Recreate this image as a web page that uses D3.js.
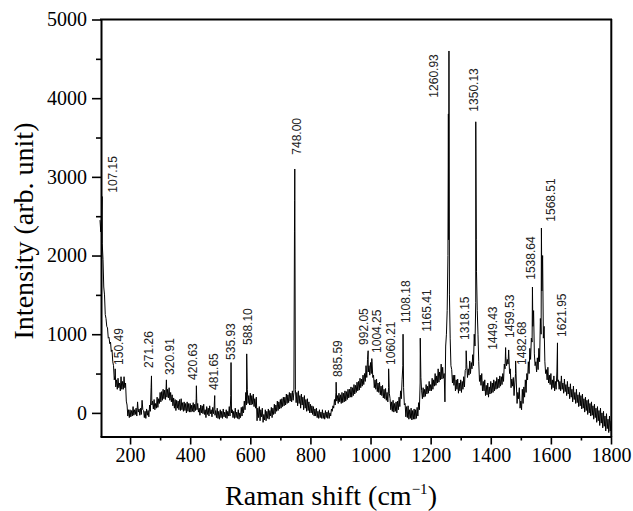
<!DOCTYPE html>
<html>
<head>
<meta charset="utf-8">
<script src="https://cdn.jsdelivr.net/npm/d3@7/dist/d3.min.js"></script>
<style>
  body { margin: 0; background: #fff; }
  svg { display: block; }
</style>
</head>
<body>
<svg id="chart" width="633" height="511"></svg>
<script>
// Raman spectrum. The trace is a dense noisy band:
// bandTop = upper edge every 5 cm-1 (100 ... 1800),
// bandBottom = lower edge at the half steps (102.5 ... 1797.5)
var shiftStep = 5;
var bandTop = [
  2450, 2500, 1950, 1500, 1200, 1080, 960, 900, 800, 600, 480, 420, 440, 380, 460, 400, 460, 380, 100, 40,
  40, 30, 80, 40, 60, 140, 50, 60, 160, 30, 20, 50, 30, 100, 320, 150, 170, 120, 200, 180,
  260, 270, 300, 290, 330, 300, 320, 260, 230, 190, 170, 160, 150, 170, 180, 130, 140, 120, 140, 120,
  120, 100, 130, 110, 180, 120, 60, 100, 90, 110, 40, 80, 60, 90, 40, 70, 90, 30, 60, 20,
  40, 20, 50, 10, 40, 20, 80, 220, 40, 20, 60, 10, 40, 0, 70, 80, 150, 260, 300, 220,
  250, 220, 240, 180, 200, 60, 80, 40, 60, -20, 40, 20, 50, 30, 70, 60, 110, 100, 150, 140,
  170, 180, 200, 200, 240, 230, 260, 250, 280, 260, 300, 260, 280, 220, 240, 200, 220, 170, 180, 140,
  110, 90, 80, 50, 60, 20, 40, 10, 40, 0, 30, 10, 30, 0, 50, 90, 170, 260, 220, 250,
  230, 260, 250, 280, 270, 300, 300, 330, 320, 360, 350, 390, 400, 440, 430, 480, 500, 600, 680, 600,
  640, 650, 480, 420, 430, 380, 390, 340, 350, 300, 310, 260, 320, 180, 140, 160, 120, 140, 150, 200,
  280, 420, 320, 120, 80, 90, 40, 60, 30, 50, 40, 70, 130, 380, 280, 320, 300, 360, 340, 400,
  360, 440, 420, 500, 470, 560, 520, 620, 580, 500, 850, 1300, 2200, 950, 550, 480, 480, 420, 430, 380,
  420, 400, 460, 540, 620, 560, 660, 640, 740, 1000, 1400, 1300, 650, 480, 500, 400, 420, 350, 380, 330,
  400, 380, 420, 400, 450, 430, 470, 460, 500, 620, 720, 680, 760, 560, 430, 450, 380, 380, 260, 320,
  150, 300, 330, 420, 500, 650, 820, 950, 1100, 750, 650, 700, 820, 1200, 1550, 950, 650, 550, 580, 480,
  500, 420, 470, 400, 520, 420, 400, 470, 380, 430, 360, 400, 330, 370, 300, 340, 260, 300, 230, 260,
  220, 240, 180, 200, 160, 170, 120, 140, 90, 110, 60, 80, 30, 60, 0, 20, -40, -10, -80, -40,
  -100
];
var bandBottom = [
  2300, 2150, 1600, 1250, 1100, 950, 880, 780, 650, 420, 330, 300, 320, 280, 300, 300, 320, 150, -40, -60,
  -50, -40, -30, -20, -40, 10, -30, -20, 40, -60, -70, -30, -50, 20, 100, 50, 40, 60, 70, 120,
  140, 160, 180, 170, 200, 190, 160, 140, 90, 60, 30, 60, 40, 30, 40, 20, 30, 0, 20, 10,
  10, 20, 10, 30, 40, 10, -30, 0, -10, -20, -60, -20, -40, -10, -50, -10, -30, -60, -70, -80,
  -60, -70, -50, -60, -70, -40, -40, 0, -60, -70, -60, -70, -80, -60, -40, 0, 40, 100, 120, 100,
  100, 110, 80, 60, -100, -60, -100, -50, -120, -90, -100, -70, -80, -40, -60, -20, -10, 20, 30, 50,
  60, 80, 90, 100, 120, 130, 150, 140, 160, 2700, 130, 90, 120, 60, 100, 40, 60, 20, 30, 0,
  0, -20, -40, -40, -60, -70, -60, -70, -70, -80, -60, -70, -70, -40, 20, 60, 100, 150, 120, 140,
  120, 130, 140, 150, 170, 190, 200, 200, 220, 240, 260, 280, 290, 320, 340, 360, 400, 450, 520, 480,
  500, 450, 320, 300, 270, 260, 230, 220, 190, 180, 160, 140, 250, 40, 20, 10, 20, 0, 40, 80,
  180, 600, 100, -50, -60, -80, -70, -90, -80, -80, -70, -40, 40, 450, 180, 200, 210, 240, 250, 280,
  280, 300, 340, 350, 380, 390, 420, 430, 440, 140, 1000, 2000, 1500, 600, 380, 350, 280, 300, 250, 280,
  260, 300, 330, 560, 450, 480, 500, 560, 600, 850, 1800, 1000, 400, 350, 280, 280, 220, 230, 200, 240,
  250, 260, 280, 300, 310, 320, 340, 360, 400, 560, 600, 620, 500, 320, 340, 220, 500, 120, 180, 60,
  40, 120, 200, 260, 420, 500, 680, 900, 1300, 600, 520, 550, 650, 1000, 2000, 1100, 500, 420, 380, 360,
  300, 320, 280, 300, 400, 300, 280, 300, 250, 270, 220, 240, 180, 200, 140, 170, 120, 130, 80, 90,
  50, 60, 10, 30, -20, 0, -40, -30, -80, -60, -120, -100, -160, -130, -190, -170, -230, -200, -250, -230
];

// sharp bands and their tops
var spikeShift = [107.15, 150.49, 271.26, 320.91, 420.63, 481.65, 535.93, 588.10, 747, 748.00,
  885.59, 992.05, 1004.25, 1060.21, 1108.18, 1165.41, 1259, 1260.93, 1318.15, 1350.13, 1352,
  1449.43, 1459.53, 1482.68, 1538.64, 1568.51, 1621.95];
var spikeHeight = [2750, 560, 470, 420, 345, 220, 640, 750, 2300, 3100,
  390, 790, 690, 560, 1000, 950, 3800, 4600, 790, 3700, 2200,
  830, 800, 660, 1600, 2350, 890];

// peak labels: text, position of the label foot (shift, intensity)
var labelText = ["107.15", "150.49", "271.26", "320.91", "420.63", "481.65", "535.93", "588.10",
  "748.00", "885.59", "992.05", "1004.25", "1060.21", "1108.18", "1165.41", "1260.93", "1318.15",
  "1350.13", "1449.43", "1459.53", "1482.68", "1538.64", "1568.51", "1621.95"];
var labelShift = [144, 161, 261, 333, 408, 480, 536, 593, 754, 891, 976, 1020, 1067, 1118, 1187,
  1209, 1314, 1344, 1408, 1464, 1503, 1534, 1599, 1636];
var labelBase = [2798, 610, 572, 483, 419, 292, 673, 864, 3282, 457, 864, 762, 610, 1144, 1030,
  4007, 928, 3829, 801, 953, 610, 1692, 2430, 966];

var xTicks = [200, 400, 600, 800, 1000, 1200, 1400, 1600, 1800];
var xMinor = [300, 500, 700, 900, 1100, 1300, 1500, 1700];
var yTicks = [0, 1000, 2000, 3000, 4000, 5000];
var yMinor = [500, 1500, 2500, 3500, 4500];

var svg = d3.select("#chart");
var serif = "'Liberation Serif', 'DejaVu Serif', serif";

var x = d3.scaleLinear().domain([100, 1800]).range([100, 611]);
var y = d3.scaleLinear().domain([-300, 5000]).range([436.5, 19.5]);

var points = bandTop.map(function(v, i) { return [100 + i * shiftStep, v]; });
bandBottom.forEach(function(v, i) { points.push([102.5 + i * shiftStep, v]); });
spikeShift.forEach(function(s, i) { points.push([s, spikeHeight[i]]); });
points.sort(function(a, b) { return a[0] - b[0]; });

var line = d3.line()
    .x(function(d) { return x(d[0]); })
    .y(function(d) { return y(d[1]); });

svg.append("path")
    .datum(points)
    .attr("fill", "none")
    .attr("stroke", "#000")
    .attr("stroke-width", 1)
    .attr("d", line);

// frame top and right
svg.append("line").attr("x1", 100).attr("x2", 612).attr("y1", 19.5).attr("y2", 19.5)
    .attr("stroke", "#000").attr("stroke-width", 2);
svg.append("line").attr("x1", 611.3).attr("x2", 611.3).attr("y1", 19).attr("y2", 437)
    .attr("stroke", "#000").attr("stroke-width", 2);

// axes
svg.append("g").attr("transform", "translate(0,436.5)")
    .call(d3.axisBottom(x).tickValues(xTicks).tickSize(8).tickPadding(3).tickSizeOuter(0)
        .tickFormat(d3.format("d")));
svg.append("g").attr("transform", "translate(0,436.5)")
    .call(d3.axisBottom(x).tickValues(xMinor).tickSize(4).tickFormat("").tickSizeOuter(0))
    .select(".domain").remove();
svg.append("g").attr("transform", "translate(101,0)")
    .call(d3.axisLeft(y).tickValues(yTicks).tickSize(9).tickPadding(5).tickSizeOuter(0)
        .tickFormat(d3.format("d")));
svg.append("g").attr("transform", "translate(101,0)")
    .call(d3.axisLeft(y).tickValues(yMinor).tickSize(5).tickFormat("").tickSizeOuter(0))
    .select(".domain").remove();

svg.selectAll(".domain").attr("stroke-width", 2);
svg.selectAll(".tick line").attr("stroke-width", 1.6);
svg.selectAll(".tick text").style("font-family", serif).style("font-size", "20px").attr("fill", "#000");

// peak labels
svg.append("g").selectAll("text")
    .data(labelText)
    .enter().append("text")
    .attr("transform", function(d, i) {
        return "translate(" + x(labelShift[i]) + "," + y(labelBase[i]) + ") rotate(-90)";
    })
    .attr("dy", "0.35em")
    .style("font-family", "'Liberation Sans', Arial, sans-serif")
    .style("font-size", "12px")
    .attr("fill", "#222")
    .text(function(d) { return d; });

// axis titles
var xt = svg.append("text")
    .attr("x", 331).attr("y", 505)
    .attr("text-anchor", "middle")
    .style("font-family", serif)
    .style("font-size", "28px")
    .attr("fill", "#000");
xt.append("tspan").text("Raman shift (cm");
xt.append("tspan").attr("dy", -11).style("font-size", "15px").text("\u22121");
xt.append("tspan").attr("dy", 11).text(")");

svg.append("text")
    .attr("transform", "translate(33,231) rotate(-90)")
    .attr("text-anchor", "middle")
    .style("font-family", serif)
    .style("font-size", "28px")
    .attr("fill", "#000")
    .text("Intensity (arb. unit)");
</script>
</body>
</html>
